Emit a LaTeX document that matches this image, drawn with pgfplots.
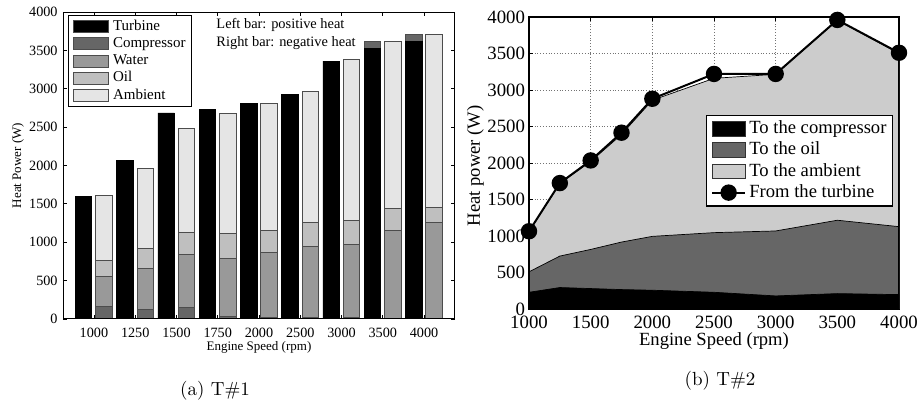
\documentclass[border=0pt]{standalone}
\usepackage{fontspec}
\usepackage{pgfplots}
\pgfplotsset{compat=1.18}
\newfontfamily\tnr{Liberation Serif}
\newcommand\fs[1]{\fontsize{#1bp}{#1bp}\selectfont}
\definecolor{cTurb}{gray}{0}
\definecolor{cComp}{gray}{0.40}
\definecolor{cWater}{gray}{0.60}
\definecolor{cOil}{gray}{0.75}
\definecolor{cAmb}{gray}{0.90}
\definecolor{cEdge}{gray}{0.30}
\pgfplotsset{
  rectlegA/.style={legend image code/.code={\draw[##1] (0bp,-3bp) rectangle (17.5bp,3bp);}},
  rectlegB/.style={legend image code/.code={\draw[##1] (0bp,-3.7bp) rectangle (16.5bp,3.7bp);}},
  linelegB/.style={legend image code/.code={\draw[##1, mark repeat=2, mark phase=2] plot coordinates {(0bp,0bp) (8.25bp,0bp) (16.5bp,0bp)};}},
}
\begin{document}
\begin{tikzpicture}
\useasboundingbox (0,0) rectangle (458.5bp,206.5bp);
% ---------------- (a) ----------------
\begin{axis}[
  at={(31.5bp,47bp)}, anchor=south west, scale only axis,
  width=196bp, height=153.5bp,
  xmin=0.25, xmax=9.75, ymin=0, ymax=4000,
  xtick={1,...,9},
  xticklabels={1000,1250,1500,1750,2000,2500,3000,3500,4000},
  ytick={0,500,...,4000},
  scaled ticks=false,
  /pgf/number format/assume math mode=true,
  /pgf/number format/1000 sep={},
  tick align=inside, major tick length=2bp,
  tick style={black, line width=0.4bp},
  axis line style={line width=0.5bp},
  tick label style={font=\tnr\fs{7.1}},
  xticklabel style={yshift=-1.2bp},
  yticklabel style={xshift=0.8bp},
  xlabel={Engine Speed (rpm)},
  ylabel={Heat Power (W)},
  label style={font=\tnr\fs{6.5}},
  xlabel style={at={(axis description cs:0.5,-0.092)}, anchor=center},
  ylabel style={at={(axis description cs:-0.115,0.5)}, anchor=center, rotate=0},
  legend style={at={(0.0128,0.99)}, anchor=north west, draw=black,
    line width=0.6bp, font=\tnr\fs{7.5}, inner xsep=2.4bp, inner ysep=1.6bp,
    row sep=0.7bp, /tikz/column 1/.style={column sep=1.2bp},
    nodes={inner sep=0.6bp, text height=5.1bp, text depth=1.6bp}},
  legend cell align=left,
  rectlegA,
]
\addlegendimage{fill=cTurb, draw=cEdge, line width=0.5bp}
\addlegendentry{Turbine}
\addlegendimage{fill=cComp, draw=cEdge, line width=0.5bp}
\addlegendentry{Compressor}
\addlegendimage{fill=cWater, draw=cEdge, line width=0.5bp}
\addlegendentry{Water}
\addlegendimage{fill=cOil, draw=cEdge, line width=0.5bp}
\addlegendentry{Oil}
\addlegendimage{fill=cAmb, draw=cEdge, line width=0.5bp}
\addlegendentry{Ambient}
% left bars: positive heat (cumulative tops)
\addplot[ybar, bar width=0.4, bar shift=-0.25, fill=cComp, draw=cEdge, line width=0.4bp, forget plot]
  coordinates {(8,3620) (9,3705)};
\addplot[ybar, bar width=0.4, bar shift=-0.25, fill=cTurb, draw=black, line width=0.4bp, forget plot]
  coordinates {(1,1600) (2,2060) (3,2685) (4,2725) (5,2812) (6,2920) (7,3360) (8,3530) (9,3615)};
% right bars: negative heat (cumulative tops)
\addplot[ybar, bar width=0.4, bar shift=0.245, fill=cAmb, draw=cEdge, line width=0.5bp, forget plot]
  coordinates {(1,1610) (2,1965) (3,2480) (4,2680) (5,2805) (6,2970) (7,3380) (8,3620) (9,3705)};
\addplot[ybar, bar width=0.4, bar shift=0.245, fill=cOil, draw=cEdge, line width=0.5bp, forget plot]
  coordinates {(1,768) (2,920) (3,1128) (4,1115) (5,1155) (6,1254) (7,1289) (8,1437) (9,1450)};
\addplot[ybar, bar width=0.4, bar shift=0.245, fill=cWater, draw=cEdge, line width=0.5bp, forget plot]
  coordinates {(1,560) (2,655) (3,838) (4,790) (5,868) (6,950) (7,977) (8,1150) (9,1263)};
\addplot[ybar, bar width=0.4, bar shift=0.245, fill=cComp, draw=cEdge, line width=0.5bp, forget plot]
  coordinates {(1,160) (2,126) (3,148) (4,30) (5,17) (6,26) (7,22)};
\node[anchor=west, font=\tnr\fs{7.2}, inner sep=0pt] at (axis cs:3.96,3827) {Left bar: positive heat};
\node[anchor=west, font=\tnr\fs{7.2}, inner sep=0pt] at (axis cs:3.96,3600) {Right bar: negative heat};
\draw[line width=0.5bp] (rel axis cs:0,0) rectangle (rel axis cs:1,1);
\end{axis}
% ---------------- (b) ----------------
\begin{axis}[
  at={(264.5bp,52bp)}, anchor=south west, scale only axis,
  width=185bp, height=146bp,
  xmin=1000, xmax=4000, ymin=0, ymax=4000,
  xtick={1000,1500,...,4000},
  ytick={0,500,...,4000},
  scaled ticks=false,
  /pgf/number format/assume math mode=true,
  /pgf/number format/1000 sep={},
  grid=major, grid style={densely dotted, black!55, line width=0.35bp},
  tick align=inside, major tick length=2bp,
  tick style={black, line width=0.4bp},
  axis line style={line width=0.7bp},
  tick label style={font=\tnr\fs{9.4}},
  yticklabel style={xshift=1.5bp},
  xticklabel style={yshift=0.2bp},
  xlabel={Engine Speed (rpm)},
  ylabel={Heat power (W)},
  label style={font=\tnr\fs{9.3}},
  xlabel style={at={(axis description cs:0.5,-0.11)}, anchor=center},
  ylabel style={at={(axis description cs:-0.145,0.49)}, anchor=center, rotate=0},
  legend style={at={(0.984,0.664)}, anchor=north east, draw=black,
    line width=0.6bp, font=\tnr\fs{9.3}, inner xsep=2.4bp, inner ysep=1.6bp,
    row sep=0.5bp, /tikz/column 1/.style={column sep=1bp},
    nodes={inner sep=0.6bp, text height=6.8bp, text depth=2.1bp}},
  legend cell align=left,
  rectlegB,
]
\addlegendimage{fill=black, draw=black!80, line width=0.5bp}
\addlegendentry{To the compressor}
\addlegendimage{fill=black!60, draw=black!80, line width=0.5bp}
\addlegendentry{To the oil}
\addlegendimage{fill=black!20, draw=black!80, line width=0.5bp}
\addlegendentry{To the ambient}
% areas, cumulative tops
\addplot[fill=black!20, draw=black, line width=0.35bp, forget plot] coordinates {
  (1000,1060) (1250,1720) (1500,2020) (1750,2390) (2000,2860) (2500,3160) (3000,3215) (3500,3955) (4000,3500)} \closedcycle;
\addplot[fill=black!60, draw=black, line width=0.35bp, forget plot] coordinates {
  (1000,509) (1250,725) (1500,816) (1750,917) (2000,995) (2500,1046) (3000,1069) (3500,1216) (4000,1128)} \closedcycle;
\addplot[fill=black, draw=black, line width=0.35bp, forget plot] coordinates {
  (1000,229) (1250,294) (1500,280) (1750,266) (2000,257) (2500,229) (3000,179) (3500,211) (4000,197)} \closedcycle;
\addplot[black, line width=1bp, mark=*, mark size=3.6bp, mark options={fill=black}, linelegB]
  coordinates {(1000,1065) (1250,1725) (1500,2035) (1750,2415) (2000,2880) (2500,3220) (3000,3220) (3500,3960) (4000,3510)};
\addlegendentry{From the turbine}
\draw[line width=0.7bp] (rel axis cs:0,0) rectangle (rel axis cs:1,1);
\end{axis}
% captions
\node[font=\fs{9.5}] at (107.5bp,11bp) {(a) T\#1};
\node[font=\fs{9.5}] at (360bp,16bp) {(b) T\#2};
\end{tikzpicture}
\end{document}
